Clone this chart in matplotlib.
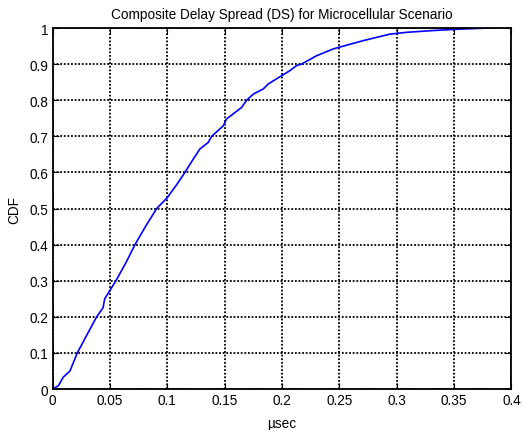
import matplotlib
matplotlib.use("Agg")
import matplotlib.pyplot as plt
import numpy as np

plt.rcParams['font.family'] = ['Liberation Sans', 'DejaVu Sans']

# delay spread (usec) vs CDF
ds_usec = [0.0, 0.0051, 0.0094, 0.0152, 0.0216, 0.0300, 0.0385, 0.0440, 0.0455,
           0.0553, 0.0640, 0.0719, 0.0810, 0.0908, 0.1000, 0.1080, 0.1154, 0.1227,
           0.1285, 0.1357, 0.1387, 0.1488, 0.1517, 0.1648, 0.1692, 0.1750, 0.1836,
           0.1880, 0.1997, 0.2070, 0.2127, 0.2170, 0.2300, 0.2446, 0.2548, 0.2707,
           0.2940, 0.3085, 0.3317, 0.3550, 0.3810]
cdf = [0.0, 0.009, 0.033, 0.050, 0.100, 0.150, 0.200, 0.225, 0.250,
       0.300, 0.350, 0.400, 0.450, 0.500, 0.530, 0.565, 0.600, 0.637,
       0.665, 0.683, 0.700, 0.729, 0.748, 0.780, 0.800, 0.817, 0.831,
       0.845, 0.868, 0.882, 0.896, 0.900, 0.923, 0.942, 0.951, 0.965,
       0.983, 0.988, 0.993, 0.997, 1.000]

x_ticks = [0, 0.05, 0.1, 0.15, 0.2, 0.25, 0.3, 0.35, 0.4]
x_labels = ['0', '0.05', '0.1', '0.15', '0.2', '0.25', '0.3', '0.35', '0.4']
y_ticks = [0, 0.1, 0.2, 0.3, 0.4, 0.5, 0.6, 0.7, 0.8, 0.9, 1]
y_labels = ['0', '0.1', '0.2', '0.3', '0.4', '0.5', '0.6', '0.7', '0.8', '0.9', '1']

fig = plt.figure(figsize=(5.23, 4.31), dpi=100)
ax = fig.add_axes([0.1004, 0.0951, 0.8776, 0.8376])

ax.plot(ds_usec, cdf, color='#0000ff', linewidth=1.2)

ax.set_xlim(0, 0.4)
ax.set_ylim(0, 1)
ax.set_xticks(x_ticks)
ax.set_xticklabels(x_labels)
ax.set_yticks(y_ticks)
ax.set_yticklabels(y_labels)

ax.grid(True, color='black', linestyle=(0, (1, 1)), linewidth=1.3)
ax.tick_params(direction='in', length=4, top=True, right=True, labelsize=9.8, pad=3)
for s in ax.spines.values():
    s.set_linewidth(1.3)

ax.set_title('Composite Delay Spread (DS) for Microcellular Scenario', fontsize=9.8, pad=7)
ax.set_xlabel('\u00b5sec', fontsize=9.8, labelpad=6)
ax.set_ylabel('CDF', fontsize=9.8, labelpad=6)

fig.savefig('out.png', dpi=100)
